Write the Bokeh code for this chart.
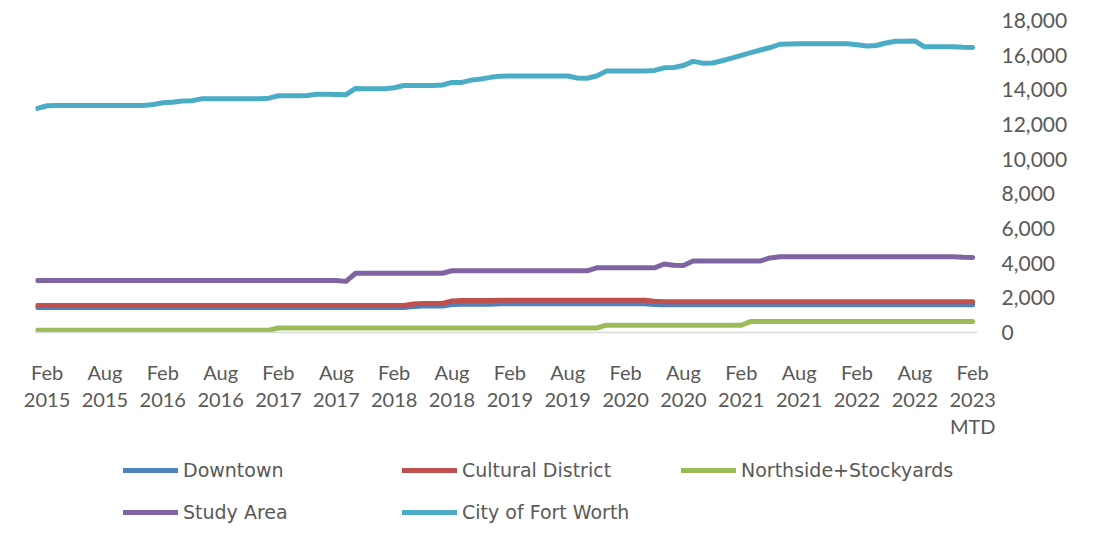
from bokeh.plotting import figure
from bokeh.layouts import column
from bokeh.models import Range1d, FixedTicker, NumeralTickFormatter, Legend, LegendItem
from bokeh.embed import file_html
from bokeh.resources import INLINE

# Monthly values, Jan 2015 .. Feb 2023 MTD
city_fort_worth = (
    [12930, 13080] + [13100] * 10 +
    [13150, 13250, 13280, 13350, 13370] + [13480] * 7 +
    [13520, 13660, 13660, 13660, 13670, 13740, 13740, 13730, 13720,
     14080, 14060, 14060, 14060, 14120, 14250, 14250, 14250, 14250, 14280,
     14430, 14430, 14560, 14630, 14720, 14790] + [14800] * 7 +
    [14680, 14670, 14800, 15080, 15080, 15080, 15080, 15080, 15120,
     15270, 15290, 15400, 15640, 15540, 15550, 15680, 15830, 15990, 16150,
     16300, 16440, 16630] + [16650, 16660, 16660, 16660, 16660, 16660, 16660] +
    [16600, 16530, 16560, 16700, 16800, 16810, 16820, 16480, 16490, 16490,
     16490, 16450, 16440]
)
study_area = (
    [3000] * 32 + [2950] + [3420] * 10 + [3560] * 15 + [3730] * 7 +
    [3950, 3880, 3870] + [4130] * 8 + [4300] + [4370] * 19 + [4340, 4330]
)
cultural_district = (
    [1560] * 39 + [1640] + [1680] * 3 + [1820] + [1840] * 4 +
    [1860] * 16 + [1800] + [1780] * 33
)
downtown = (
    [1440] * 39 + [1500] + [1530] * 3 + [1620] + [1630] * 4 +
    [1660] * 16 + [1620] + [1600] * 33
)
northside_stockyards = [130] * 25 + [260] * 34 + [420] * 15 + [640] * 24

tick_positions = [1, 7, 13, 19, 25, 31, 37, 43, 49, 55, 61, 67, 73, 79, 85, 91, 97]
tick_labels = ["Feb\n2015", "Aug\n2015", "Feb\n2016", "Aug\n2016", "Feb\n2017",
               "Aug\n2017", "Feb\n2018", "Aug\n2018", "Feb\n2019", "Aug\n2019",
               "Feb\n2020", "Aug\n2020", "Feb\n2021", "Aug\n2021", "Feb\n2022",
               "Aug\n2022", "Feb\n2023\nMTD"]
y_ticks = [0, 2000, 4000, 6000, 8000, 10000, 12000, 14000, 16000, 18000]

series = [
    ("Downtown", downtown, "#4F81BD"),
    ("Cultural District", cultural_district, "#C0504D"),
    ("Northside+Stockyards", northside_stockyards, "#9BBB59"),
    ("Study Area", study_area, "#8064A2"),
    ("City of Fort Worth", city_fort_worth, "#4BACC6"),
]
legend_order = ["Downtown", "Cultural District", "Northside+Stockyards",
                "Study Area", "City of Fort Worth"]

x = list(range(len(city_fort_worth)))
TXT = "#595959"

# ---- main chart ----
p = figure(width=1082, height=440, output_backend="svg", toolbar_location=None,
           x_range=Range1d(-0.2, 97.5), y_range=Range1d(0, 18000),
           y_axis_location="right",
           min_border_left=35, min_border_right=105,
           min_border_top=20, min_border_bottom=104)
p.outline_line_color = None
p.xgrid.visible = False
p.ygrid.visible = False

for name, vals, col in series:
    p.line(x, vals, line_color=col, line_width=5,
           line_cap="round", line_join="round")

ax = p.xaxis[0]
ax.ticker = FixedTicker(ticks=tick_positions)
ax.major_label_overrides = {t: l for t, l in zip(tick_positions, tick_labels)}
ax.axis_line_color = "#D9D9D9"
ax.axis_line_width = 1.5
ax.major_tick_line_color = None
ax.minor_tick_line_color = None
ax.major_label_standoff = 21
ax.major_label_text_font = "Lato"
ax.major_label_text_font_size = "20px"
ax.major_label_text_color = TXT
ax.major_label_text_line_height = 1.13

ay = p.yaxis[0]
ay.ticker = FixedTicker(ticks=y_ticks)
ay.formatter = NumeralTickFormatter(format="0,0")
ay.axis_line_color = None
ay.major_tick_line_color = None
ay.minor_tick_line_color = None
ay.major_label_standoff = 18
ay.major_label_text_font = "Lato"
ay.major_label_text_font_size = "21px"
ay.major_label_text_color = TXT
ay.major_label_text_align = "left"

# ---- legend strip (same series, out of its visible range) ----
lg = figure(width=1082, height=84, output_backend="svg", toolbar_location=None,
            x_axis_type=None, y_axis_type=None,
            x_range=Range1d(0, 1), y_range=Range1d(-2, -1),
            min_border_left=0, min_border_right=0,
            min_border_top=0, min_border_bottom=0)
lg.outline_line_color = None
lg.xgrid.visible = False
lg.ygrid.visible = False

rends = {}
for name, vals, col in series:
    rends[name] = lg.line(x, vals, line_color=col, line_width=5, line_cap="round")

items = [LegendItem(label=n, renderers=[rends[n]]) for n in legend_order]
leg = Legend(items=items, location=(88, 1), orientation="horizontal", ncols=3,
             glyph_width=55, glyph_height=20, label_height=20, label_width=199,
             label_standoff=5, spacing=20, padding=0, margin=0,
             border_line_color=None, background_fill_alpha=0,
             label_text_font="DejaVu Sans", label_text_font_size="19px",
             label_text_color=TXT)
lg.add_layout(leg, "center")

layout = column(p, lg, spacing=0)
open("out.html", "w").write(file_html(layout, INLINE))
